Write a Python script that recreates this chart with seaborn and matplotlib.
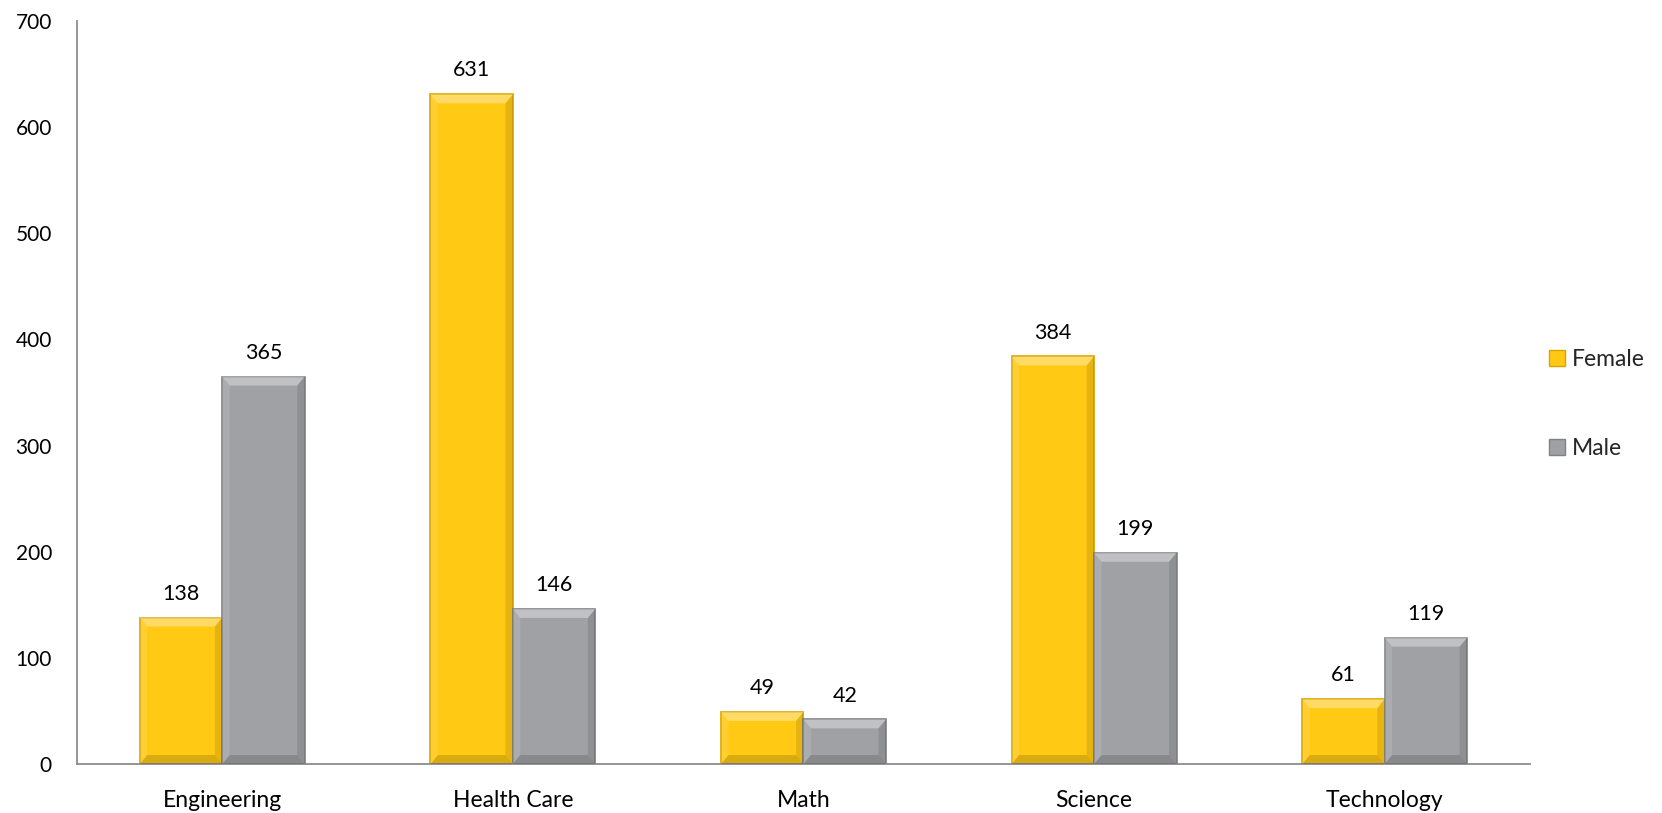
import numpy as np
import pandas as pd
import seaborn as sns
import matplotlib.pyplot as plt
from matplotlib.patches import Polygon

categories = ["Engineering", "Health Care", "Math", "Science", "Technology"]
female = [138, 631, 49, 384, 61]
male = [365, 146, 42, 199, 119]

df = pd.DataFrame({
    "Field": categories * 2,
    "Count": female + male,
    "Gender": ["Female"] * len(categories) + ["Male"] * len(categories),
})

sns.set_style("white")
plt.rcParams["font.family"] = ["Lato", "DejaVu Sans"]

palette = {"Female": "#FFC914", "Male": "#A0A1A5"}
edges = {"Female": "#D9A400", "Male": "#808185"}

fig = plt.figure(figsize=(16.62, 8.13), dpi=100)
ax = fig.add_axes([0.0463, 0.0603, 0.8743, 0.9137])

sns.barplot(data=df, x="Field", y="Count", hue="Gender", palette=palette,
            width=0.567, gap=0, ax=ax, legend=True, saturation=1)

# bevel look + value labels
for cont, gender in zip(ax.containers, ["Female", "Male"]):
    for bar in cont:
        bar.set_edgecolor(edges[gender])
        bar.set_linewidth(1.2)
        x0, y0 = bar.get_x(), bar.get_y()
        w, h = bar.get_width(), bar.get_height()
        bx = w * 0.09
        by = min(700 * 0.012, h / 3)
        top = Polygon([[x0, y0 + h], [x0 + w, y0 + h], [x0 + w - bx, y0 + h - by], [x0 + bx, y0 + h - by]],
                      closed=True, facecolor="white", alpha=0.35, lw=0, zorder=3)
        left = Polygon([[x0, y0], [x0, y0 + h], [x0 + bx, y0 + h - by], [x0 + bx, y0 + by]],
                       closed=True, facecolor="white", alpha=0.12, lw=0, zorder=3)
        right = Polygon([[x0 + w, y0], [x0 + w, y0 + h], [x0 + w - bx, y0 + h - by], [x0 + w - bx, y0 + by]],
                        closed=True, facecolor="black", alpha=0.10, lw=0, zorder=3)
        bottom = Polygon([[x0, y0], [x0 + w, y0], [x0 + w - bx, y0 + by], [x0 + bx, y0 + by]],
                         closed=True, facecolor="black", alpha=0.15, lw=0, zorder=3)
        for p in (top, left, right, bottom):
            ax.add_patch(p)
    ax.bar_label(cont, padding=10, fontsize=15.5, color="#000000")

ax.set_ylim(0, 700)
ax.set_yticks(range(0, 701, 100))
ax.set_xlim(-0.5, 4.5)
ax.set_xlabel("")
ax.set_ylabel("")
ax.tick_params(axis="both", length=0, colors="#000000")
ax.tick_params(axis="y", pad=18, labelsize=15)
ax.tick_params(axis="x", pad=19, labelsize=16.5)
for s in ["top", "right"]:
    ax.spines[s].set_visible(False)
for s in ["left", "bottom"]:
    ax.spines[s].set_color("#8C8C8C")
    ax.spines[s].set_linewidth(1.3)

ax.legend_.remove()
handles, labels = ax.get_legend_handles_labels()
for hnd, g in zip(handles, labels):
    hnd.set_edgecolor(edges[g])
leg = fig.legend(handles, labels, loc="center left", bbox_to_anchor=(0.932, 0.503),
                 frameon=False, fontsize=16.5, labelspacing=3.0, handlelength=0.7,
                 handleheight=0.7, handletextpad=0.3, borderpad=0, borderaxespad=0)

fig.savefig("out.png", dpi=100)
